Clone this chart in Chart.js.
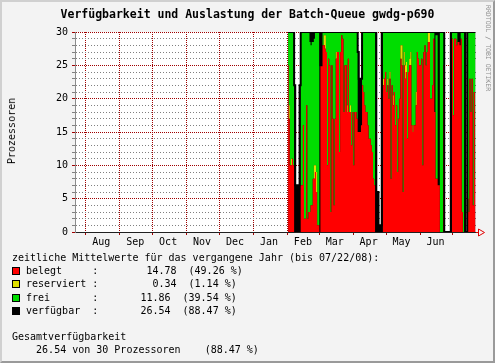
<!DOCTYPE html>
<html>
<head>
<meta charset="utf-8">
<script src="https://cdn.jsdelivr.net/npm/chart.js@4.4.1/dist/chart.umd.min.js"></script>
<style>
  html, body { margin: 0; padding: 0; }
  body {
    width: 495px; height: 363px; position: relative; overflow: hidden;
    background: #f3f3f3; font-family: "DejaVu Sans Mono", monospace; color: #000;
  }
  #frame {
    position: absolute; left: 0; top: 0; width: 495px; height: 363px; box-sizing: border-box;
    border-left: 2px solid #d0d0d0; border-top: 2px solid #d0d0d0;
    border-right: 2px solid #9a9a9a; border-bottom: 2px solid #9a9a9a;
    pointer-events: none;
  }
  #chart { position: absolute; left: 0; top: 0; }
  #title {
    position: absolute; left: 0; top: 7px; width: 495px; text-align: center;
    font-size: 11.5px; font-weight: bold; line-height: 14px; white-space: pre;
  }
  #ytitle {
    position: absolute; left: 12px; top: 131px; font-size: 10px; line-height: 12px;
    white-space: pre; transform: translate(-50%, -50%) rotate(-90deg);
  }
  #mark {
    position: absolute; left: 484px; top: 5px; font-size: 6.5px; line-height: 8px;
    writing-mode: vertical-rl; color: #909090; white-space: pre;
  }
  #legend { position: absolute; left: 12px; top: 251px; font-size: 10px; }
  #legend .row { height: 13.2px; line-height: 13.2px; white-space: pre; }
  #legend .box {
    display: inline-block; width: 8px; height: 8px; box-sizing: border-box;
    border: 1px solid #000; margin-right: 6px; vertical-align: -1px;
  }
</style>
</head>
<body>
<canvas id="chart" width="495" height="363"></canvas>
<div id="title">Verfügbarkeit und Auslastung der Batch-Queue gwdg-p690</div>
<div id="ytitle">Prozessoren</div>
<div id="mark">RRDTOOL / TOBI OETIKER</div>
<div id="legend"></div>
<div id="frame"></div>
<script>
// days are counted from 2007-07-22 (start of the one-year window)
const startDay = 194; // first day with data: 2008-02-01
const monthStarts = [10, 41, 71, 102, 132, 163, 194, 223, 254, 284, 315, 345];
const monthNames = ['Aug', 'Sep', 'Oct', 'Nov', 'Dec', 'Jan', 'Feb', 'Mar', 'Apr', 'May', 'Jun'];

// one value per day, 2008-02-01 .. 2008-07-21
const belegt = [
  25, 17, 10, 10, 11, 10, 0, 0, 0, 0,
  0, 0, 7, 7, 16, 2, 2, 19, 2, 3,
  3, 4, 4, 8, 8, 9, 6, 1, 1, 0,
  25, 28, 28, 28, 27.5, 27, 10, 26, 25, 3,
  25, 17, 4, 17, 26, 27, 27, 12, 27, 29.5,
  29, 18, 25, 25, 18, 26, 18, 18, 13, 18,
  10, 18, 18, 17, 15, 15, 15, 16, 22, 21,
  19, 18, 18, 16, 14, 14, 13, 12, 8, 7,
  0, 0, 0, 0, 0, 0, 0, 22, 23, 24,
  21, 22, 20, 23, 8, 22, 19, 21, 16, 19,
  9, 17, 20, 26, 25, 6, 25, 23, 24, 14,
  24, 25, 25, 16, 15, 16, 16, 19, 27, 26,
  25, 25, 26, 10, 27, 28, 25, 27, 28.5, 28.5,
  20, 20, 22, 29, 18, 8, 8, 7, 7, 0,
  0, 0, 25, 0, 0, 0, 0, 0, 0, 0,
  29, 17.5, 29, 29, 28, 28.5, 28.5, 28, 29, 3,
  0, 0, 0, 0, 5, 3, 23, 18, 23, 4,
  21, 8
];
const reserviert = [
  0, 2, 0, 1, 0, 0, 0, 0, 0, 0,
  0, 0, 0, 0, 0, 0, 0, 0, 0, 0,
  0, 0, 0, 0, 2, 1, 3, 0, 0, 0,
  0, 0, 0, 1.5, 2, 0, 0, 0, 0, 0,
  0, 0, 0, 0, 1, 0, 0, 0, 0, 0,
  0, 0, 0, 0, 1, 0, 0, 1, 0, 0,
  0, 0, 0, 0, 0, 0, 0, 0, 0, 0,
  0, 0, 0, 0, 0, 0, 0, 0, 0, 0,
  0, 0, 0, 0, 0, 0, 0, 1, 0, 0,
  0, 1, 0, 1, 0, 0, 1.5, 0, 0, 0,
  0, 0, 0, 2, 3, 0, 2, 2, 1.5, 0,
  0, 1, 2, 0, 1, 0, 0, 2, 0, 0,
  0, 0, 0, 0, 0, 0, 0, 0, 1.5, 1.5,
  0, 0, 0, 0, 0, 0, 0, 0, 0, 0,
  0, 0, 0, 0, 0, 0, 0, 0, 0, 0,
  0, 0, 0, 0, 0, 0, 0, 0, 0, 0,
  0, 0, 0, 0, 0, 0, 0, 0, 0, 0,
  0, 0
];
const frei = [
  5, 11, 20, 19, 19, 20, 0, 0, 0, 0,
  0, 0, 23, 23, 14, 28, 28, 11, 28, 27,
  25.5, 24, 24.5, 20.5, 19, 20, 21, 29, 29, 0,
  0, 2, 2, 0.5, 0.5, 3, 20, 4, 5, 27,
  5, 13, 26, 13, 3, 3, 3, 18, 3, 0.5,
  1, 12, 5, 5, 11, 4, 12, 11, 17, 12,
  20, 12, 12, 13, 0, 0, 0, 0, 8, 9,
  11, 12, 12, 14, 16, 16, 17, 18, 22, 23,
  0, 0, 0, 0, 0, 0, 0, 7, 7, 6,
  9, 7, 10, 6, 22, 8, 9.5, 9, 14, 11,
  21, 13, 10, 2, 2, 24, 3, 5, 4.5, 16,
  6, 4, 3, 14, 14, 14, 14, 9, 3, 4,
  5, 5, 4, 20, 3, 2, 5, 3, 0, 0,
  10, 10, 8, 1, 0, 21.5, 21.5, 0, 0, 30,
  30, 30, 5, 0, 0, 0, 0, 0, 0, 0,
  1, 12.5, 1, 1, 2, 0, 0, 0, 1, 27,
  30, 30, 0, 0, 25, 27, 7, 12, 7, 26,
  9, 22
];
const verfuegbar = [
  30, 30, 30, 30, 30, 30, 22, 7, 7, 7,
  7, 22, 30, 30, 30, 30, 30, 30, 30, 30,
  30, 30, 30, 30, 30, 30, 30, 30, 30, 30,
  25, 30, 30, 30, 30, 30, 30, 30, 30, 30,
  30, 30, 30, 30, 30, 30, 30, 30, 30, 30,
  30, 30, 30, 30, 30, 30, 30, 30, 30, 30,
  30, 30, 30, 30, 27, 23, 23, 23, 30, 30,
  30, 30, 30, 30, 30, 30, 30, 30, 30, 30,
  30, 0, 6, 1, 1, 1, 30, 30, 30, 30,
  30, 30, 30, 30, 30, 30, 30, 30, 30, 30,
  30, 30, 30, 30, 30, 30, 30, 30, 30, 30,
  30, 30, 30, 30, 30, 30, 30, 30, 30, 30,
  30, 30, 30, 30, 30, 30, 30, 30, 30, 30,
  30, 30, 30, 30, 30, 30, 30, 30, 30, 30,
  30, 30, 30, 0, 0, 0, 0, 0, 0, 30,
  30, 30, 30, 30, 30, 30, 30, 30, 30, 30,
  30, 30, 0, 0, 30, 30, 30, 30, 30, 30,
  30, 30
];

// legend (yearly averages)
const seriesNames = ['belegt', 'reserviert', 'frei', 'verfügbar'];
const seriesColors = ['#ff0000', '#e0e000', '#00dd00', '#000000'];
const avgValues = [14.78, 0.34, 11.86, 26.54];
const avgPercents = [49.26, 1.14, 39.54, 88.47];
const totalProcs = 30;

const MAJOR = '#a00000';
const MINOR = '#808080';
const CLEAR = 'rgba(0,0,0,0)';

Chart.defaults.font.family = '"DejaVu Sans Mono", monospace';
Chart.defaults.font.size = 10;
Chart.defaults.color = '#000';

const pts = arr => arr.map((y, i) => ({ x: startDay + i + 0.5, y: y }));

function area(label, data, color, fill, stack, order) {
  return {
    label: label, data: pts(data), backgroundColor: color, borderColor: CLEAR,
    borderWidth: 0, fill: fill, stack: stack, order: order,
    stepped: 'middle', pointRadius: 0, tension: 0
  };
}

// black outline of the available processors, drawn over the stack
const verfLine = area(seriesNames[3], verfuegbar, CLEAR, false, 'w', -1);
verfLine.borderColor = '#000';
verfLine.borderWidth = 2;

const plotBack = {
  id: 'plotBack',
  beforeDraw(chart) {
    const { ctx, chartArea: a } = chart;
    ctx.save();
    ctx.fillStyle = '#fff';
    ctx.fillRect(a.left, a.top, a.right - a.left, a.bottom - a.top);
    ctx.restore();
  },
  afterDraw(chart) {
    const { ctx, chartArea: a } = chart;
    const y = Math.round(a.bottom) + 0.5;
    ctx.save();
    ctx.strokeStyle = '#e00000';
    ctx.lineWidth = 1;
    ctx.beginPath();
    ctx.moveTo(a.right, y); ctx.lineTo(a.right + 3, y);
    ctx.moveTo(a.right + 2.5, y - 3.5); ctx.lineTo(a.right + 8.5, y); ctx.lineTo(a.right + 2.5, y + 3.5);
    ctx.closePath();
    ctx.stroke();
    ctx.restore();
  }
};

new Chart(document.getElementById('chart'), {
  type: 'line',
  data: {
    datasets: [
      area(seriesNames[0], belegt, seriesColors[0], 'origin', 's', 0),
      area(seriesNames[1], reserviert, seriesColors[1], '-1', 's', 0),
      area(seriesNames[2], frei, seriesColors[2], '-1', 's', 0),
      area(seriesNames[3], verfuegbar, seriesColors[3], 'origin', 'v', 1),
      verfLine
    ]
  },
  options: {
    responsive: false,
    animation: false,
    layout: { padding: { left: 0, right: 19, top: 32, bottom: 111 } },
    plugins: { legend: { display: false }, tooltip: { enabled: false } },
    scales: {
      x: {
        type: 'linear', min: 0, max: 366, z: 1,
        afterFit: s => { s.height = 20; },
        afterBuildTicks: s => {
          const t = monthStarts.map(v => ({ value: v }));
          monthNames.forEach((n, i) => t.push({ value: monthStarts[i] + 14 }));
          t.sort((a, b) => a.value - b.value);
          s.ticks = t;
        },
        ticks: {
          autoSkip: false, maxRotation: 0, padding: 1,
          callback: v => {
            const i = monthStarts.indexOf(v - 14);
            return i >= 0 && i < monthNames.length ? monthNames[i] : '';
          }
        },
        grid: {
          color: c => (c.tick && monthStarts.includes(c.tick.value)) ? MAJOR : CLEAR,
          tickColor: c => (c.tick && monthStarts.includes(c.tick.value)) ? MAJOR : CLEAR,
          tickLength: 3, lineWidth: 1
        },
        border: { color: '#202020', width: 1, dash: [1, 1] }
      },
      y: {
        stacked: true, min: 0, max: 30, z: 1,
        afterFit: s => { s.width = 75; },
        ticks: {
          stepSize: 1, maxTicksLimit: 40, autoSkip: false, padding: 4,
          callback: v => (v % 5 === 0 ? String(v) : '')
        },
        grid: {
          color: c => {
            if (!c.tick || c.tick.value === 0) return CLEAR;
            return c.tick.value % 5 === 0 ? MAJOR : MINOR;
          },
          tickColor: c => (c.tick && c.tick.value % 5 === 0) ? MAJOR : MINOR,
          tickLength: 3, lineWidth: 1
        },
        border: { color: '#8c8c8c', width: 1, dash: c => (c.tick && c.tick.value % 5 === 0) ? [1, 1] : [1, 2] }
      }
    }
  },
  plugins: [plotBack]
});

// legend block below the graph
const legend = document.getElementById('legend');
const valueEnd = [25, 25, 24, 24];
function addRow(html) {
  const d = document.createElement('div');
  d.className = 'row';
  d.innerHTML = html;
  legend.appendChild(d);
}
addRow('zeitliche Mittelwerte für das vergangene Jahr (bis 07/22/08):');
seriesNames.forEach((name, i) => {
  const txt = name.padEnd(11) + ':' + avgValues[i].toFixed(2).padStart(valueEnd[i] - 12) +
    '  (' + avgPercents[i].toFixed(2) + ' %)';
  addRow('<span class="box" style="background:' + seriesColors[i] + '"></span>' + txt);
});
addRow(' ');
addRow('Gesamtverfügbarkeit');
addRow('    ' + avgValues[3].toFixed(2) + ' von ' + totalProcs + ' Prozessoren    (' +
  avgPercents[3].toFixed(2) + ' %)');
</script>
</body>
</html>
